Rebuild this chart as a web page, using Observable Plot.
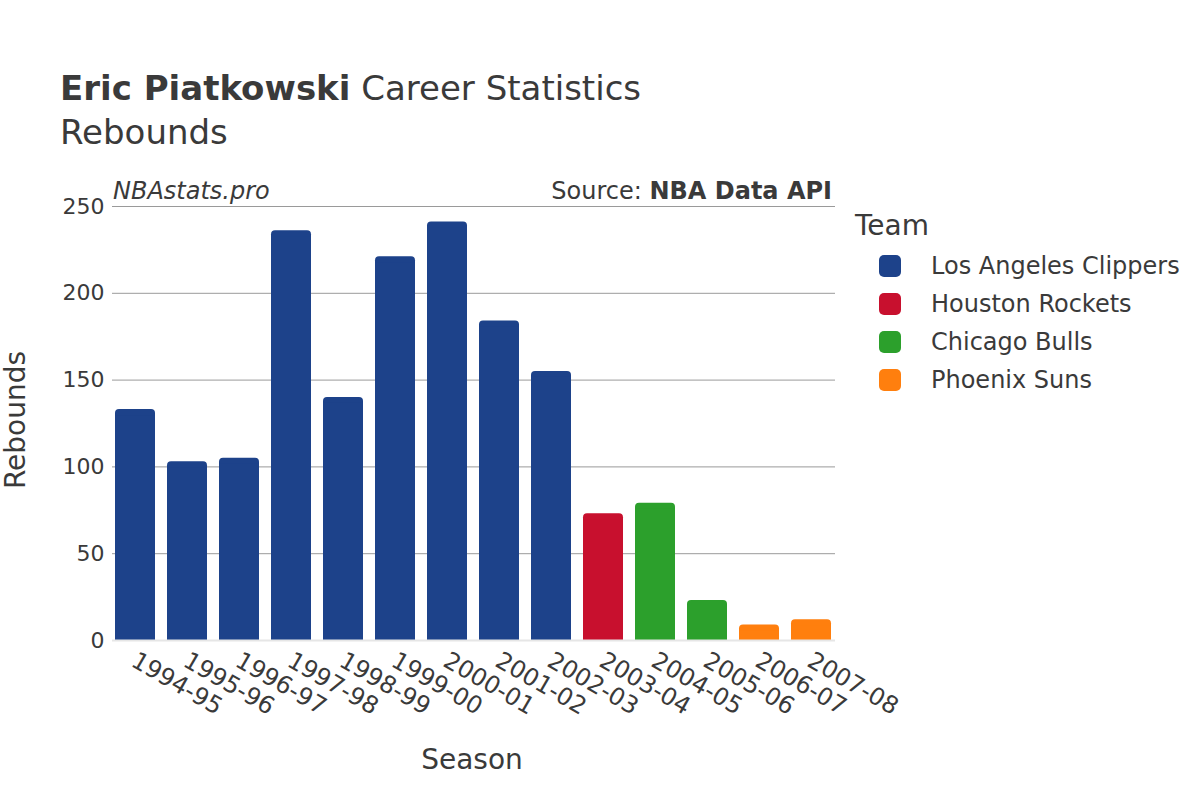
<!DOCTYPE html>
<html>
<head>
<meta charset="utf-8">
<script src="https://cdn.jsdelivr.net/npm/d3@7"></script>
<script src="https://cdn.jsdelivr.net/npm/@observablehq/plot@0.6"></script>
<style>
  html, body { margin: 0; padding: 0; background: #fff; }
  #wrap { position: relative; width: 1200px; height: 800px; font-family: "DejaVu Sans", sans-serif; color: #3a3a3a; overflow: hidden; }
  #chart { position: absolute; left: 0; top: 0; }
  .abs { position: absolute; white-space: nowrap; }
  .legend-row { position: absolute; left: 879px; height: 24px; display: flex; align-items: center; }
  .sw { width: 22px; height: 22px; border-radius: 5px; }
  .lt { position: absolute; left: 52px; font-size: 24px; color: #3a3a3a; line-height: 24px; white-space: nowrap; }
</style>
</head>
<body>
<div id="wrap">
  <div id="chart"></div>
  <div class="abs" style="left:60px; top:68px; font-size:34px; line-height:40px;"><b>Eric Piatkowski</b> Career Statistics</div>
  <div class="abs" style="left:60px; top:112px; font-size:34px; line-height:40px;">Rebounds</div>
  <div class="abs" style="left:113px; top:176px; font-size:24px; font-style:italic; line-height:30px;">NBAstats.pro</div>
  <div class="abs" style="right:368px; top:176px; font-size:24px; line-height:30px;">Source: <b>NBA Data API</b></div>
  <div class="abs" style="left:472px; top:743px; font-size:28px; line-height:34px; transform:translateX(-50%);">Season</div>
  <div class="abs" style="left:16px; top:420px; font-size:28px; line-height:34px; transform:translate(-50%,-50%) rotate(-90deg);">Rebounds</div>
  <div class="abs" style="left:855px; top:209px; font-size:28px; line-height:34px;">Team</div>
  <div id="legend"></div>
</div>
<script>
const seasons = ["1994-95","1995-96","1996-97","1997-98","1998-99","1999-00","2000-01","2001-02","2002-03","2003-04","2004-05","2005-06","2006-07","2007-08"];
const rebounds = [133, 103, 105, 236, 140, 221, 241, 184, 155, 73, 79, 23, 9, 12];
const seasonTeams = ["Los Angeles Clippers","Los Angeles Clippers","Los Angeles Clippers","Los Angeles Clippers","Los Angeles Clippers","Los Angeles Clippers","Los Angeles Clippers","Los Angeles Clippers","Los Angeles Clippers","Houston Rockets","Chicago Bulls","Chicago Bulls","Phoenix Suns","Phoenix Suns"];
const teamNames = ["Los Angeles Clippers","Houston Rockets","Chicago Bulls","Phoenix Suns"];
const teamColors = ["#1d428a","#c8102e","#2ca02c","#ff7f0e"];
const yTicks = [0, 50, 100, 150, 200, 250];

const data = seasons.map((s, i) => ({season: s, value: rebounds[i], team: seasonTeams[i]}));

const chart = Plot.plot({
  width: 1200,
  height: 800,
  marginLeft: 112,
  marginRight: 365,
  marginTop: 206,
  marginBottom: 160,
  style: {fontFamily: "DejaVu Sans, sans-serif", fontSize: "22px", color: "#3a3a3a", background: "transparent", overflow: "visible"},
  x: {domain: seasons, paddingInner: 0.23, paddingOuter: 0.03, label: null},
  y: {domain: [0, 250], label: null},
  color: {domain: teamNames, range: teamColors},
  marks: [
    Plot.gridY(yTicks.filter(t => t > 0), {stroke: "#9a9a9a", strokeOpacity: 1, strokeWidth: 1}),
    Plot.barY(data, {x: "season", y: "value", fill: "team", rx: 4}),
    Plot.barY(data, {x: "season", y: "value", fill: "team", insetTop: 6}),
    Plot.ruleY([0], {stroke: "#e6e6e6", strokeWidth: 2}),
    Plot.axisY(yTicks, {tickSize: 0, tickPadding: 8, fontSize: 22, fill: "#3a3a3a", label: null}),
    Plot.axisX({tickSize: 0, tickPadding: 10, tickRotate: 30, fontSize: 24, fill: "#3a3a3a", label: null, dx: -2, dy: 8})
  ]
});
document.getElementById("chart").appendChild(chart);

const legend = document.getElementById("legend");
teamNames.forEach((t, i) => {
  const row = document.createElement("div");
  row.className = "legend-row";
  row.style.top = (254 + i * 38) + "px";
  const sw = document.createElement("div");
  sw.className = "sw";
  sw.style.background = teamColors[i];
  const lt = document.createElement("div");
  lt.className = "lt";
  lt.textContent = t;
  row.appendChild(sw);
  row.appendChild(lt);
  legend.appendChild(row);
});
</script>
</body>
</html>
